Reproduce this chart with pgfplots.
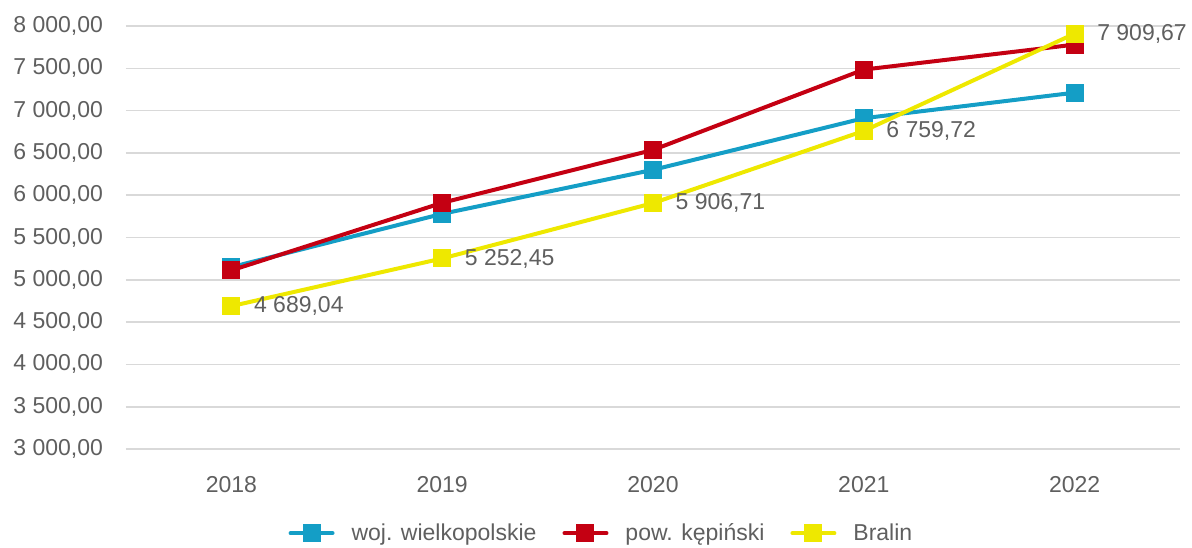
\documentclass[border=0pt]{standalone}
\usepackage{pgfplots}
\pgfplotsset{compat=1.18}
\usepackage{fontspec}
\setmainfont{Liberation Sans}
\definecolor{txt}{RGB}{95,95,95}
\definecolor{gridc}{RGB}{217,217,217}
\definecolor{cblue}{RGB}{20,158,198}
\definecolor{cred}{RGB}{196,0,18}
\definecolor{cyel}{RGB}{238,232,0}

\begin{document}
\begin{tikzpicture}[font=\fontsize{11.5}{13}\selectfont, x=1pt, y=1pt]
\useasboundingbox (-63,-49) rectangle (533,224.5);
\begin{axis}[
    scale only axis,
    width=527pt, height=211.5pt,
    xmin=-0.5, xmax=4.5,
    ymin=3000, ymax=8000,
    xtick={0,...,4},
    xticklabels={2018,2019,2020,2021,2022},
    ytick={3000,3500,...,8000},
    ymajorgrids,
    grid style={gridc, line width=0.8pt},
    axis line style={draw=none},
    major tick length=0pt,
    tick label style={text=txt},
    xticklabel style={yshift=-10pt},
    yticklabel style={xshift=-8pt},
    /pgf/number format/assume math mode=true,
    yticklabel={\pgfmathprintnumber[fixed, fixed zerofill, precision=2, use comma, 1000 sep={\ }]{\tick}},
    legend columns=3,
    legend style={draw=none, fill=none, at={(0.452,-0.199)}, anchor=center,
        text=txt,
        /tikz/every odd column/.append style={column sep=6.5pt},
        /tikz/every even column/.append style={column sep=11pt}},
    legend image code/.code={
        \draw[#1, line cap=round] (0pt,0pt) -- (21pt,0pt);
        \draw[#1, mark repeat=2, mark phase=2] plot coordinates {(0pt,0pt) (10.5pt,0pt) (21pt,0pt)};
    },
    every axis plot/.append style={line width=2pt, mark=square*, mark size=3.5pt},
]
\addplot[cblue, mark options={fill=cblue}] coordinates {
    (0,5150) (1,5780) (2,6300) (3,6910) (4,7212)
};
\addlegendentry{woj. wielkopolskie}
\addplot[cred, mark options={fill=cred}] coordinates {
    (0,5112) (1,5910) (2,6535) (3,7485) (4,7780)
};
\addlegendentry{pow. kępiński}
\addplot[cyel, mark options={fill=cyel},
    nodes near coords={\pgfmathprintnumber[fixed, fixed zerofill, precision=2, use comma, 1000 sep={\ }]{\pgfplotspointmeta}},
    every node near coord/.append style={anchor=west, xshift=7pt, text=txt},
] coordinates {
    (0,4689.04) (1,5252.45) (2,5906.71) (3,6759.72) (4,7909.67)
};
\addlegendentry{Bralin}
\end{axis}
\end{tikzpicture}
\end{document}
